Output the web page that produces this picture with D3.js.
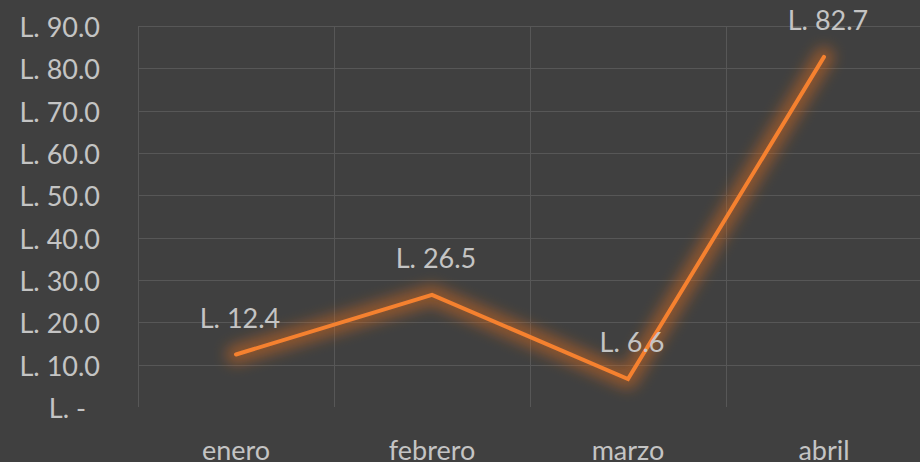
<!DOCTYPE html>
<html><head><meta charset="utf-8">
<script src="https://cdn.jsdelivr.net/npm/d3@7"></script>
<style>body{margin:0;background:#404040;} text{font-family:Lato,"Open Sans",sans-serif;font-weight:400;}</style>
</head><body>
<svg id="c" width="920" height="462"></svg>
<script>
const categories = ["enero", "febrero", "marzo", "abril"];
const values = [12.4, 26.5, 6.6, 82.7];
const yTicks = [0, 10, 20, 30, 40, 50, 60, 70, 80, 90];

const W = 920, H = 462;
const margin = {left: 138, right: -2, top: 26, bottom: 55};
const FS = "27px", TC = "#c4c4c4";
const svg = d3.select("#c");
svg.append("rect").attr("width", W).attr("height", H).attr("fill", "#404040");

const x = d3.scaleBand().domain(categories).range([margin.left, W - margin.right]).padding(0);
const y = d3.scaleLinear().domain([0, 90]).range([H - margin.bottom, margin.top]);

const defs = svg.append("defs");
const f = defs.append("filter").attr("id", "glow").attr("x", "-30%").attr("y", "-30%").attr("width", "160%").attr("height", "160%");
f.append("feGaussianBlur").attr("in", "SourceGraphic").attr("stdDeviation", 7).attr("result", "b");
f.append("feComponentTransfer").attr("in", "b").attr("result", "b2")
  .append("feFuncA").attr("type", "linear").attr("slope", 0.5);
const m = f.append("feMerge");
m.append("feMergeNode").attr("in", "b2");

// gridlines
const grid = svg.append("g").attr("stroke", "#575757").attr("stroke-width", 1);
grid.selectAll("line.h").data(yTicks.filter(d => d > 0)).join("line")
  .attr("x1", margin.left).attr("x2", W)
  .attr("y1", d => Math.round(y(d)) + 0.5).attr("y2", d => Math.round(y(d)) + 0.5);
const vx = categories.map(c => x(c)).concat([x(categories[3]) + x.bandwidth()]);
grid.selectAll("line.v").data(vx).join("line")
  .attr("x1", d => Math.round(d) + 0.5).attr("x2", d => Math.round(d) + 0.5)
  .attr("y1", y(90)).attr("y2", y(0));

// y axis labels
const fmt = d => d === 0 ? "L. -" : "L. " + d3.format(".1f")(d);
const yAxis = d3.axisLeft(y).tickValues(yTicks).tickFormat(fmt).tickSize(0).tickPadding(0);
const ga = svg.append("g").attr("transform", "translate(100,0)").call(yAxis);
ga.select(".domain").remove();
ga.selectAll("text").attr("fill", TC).style("font-size", FS).style("font-family", "Lato,'Open Sans',sans-serif").style("font-weight", 400)
  .attr("dx", d => d === 0 ? -14 : 0).attr("dy", null).attr("y", 10.5);

// x axis labels
const xAxis = d3.axisBottom(x).tickSize(0).tickPadding(0);
const gx = svg.append("g").attr("transform", `translate(0,${H - 2})`).call(xAxis);
gx.select(".domain").remove();
gx.selectAll("text").attr("fill", TC).style("font-size", FS).style("font-family", "Lato,'Open Sans',sans-serif").style("font-weight", 400)
  .attr("y", 0).attr("dy", null);

const pts = categories.map((c, i) => [x(c) + x.bandwidth() / 2, y(values[i])]);
const line = d3.line();
svg.append("path").attr("d", line(pts)).attr("fill", "none").attr("stroke", "#d96a1c")
  .attr("stroke-width", 20).attr("stroke-linejoin", "round").attr("stroke-linecap", "round").attr("filter", "url(#glow)");
svg.append("path").attr("d", line(pts)).attr("fill", "none").attr("stroke", "#f5812f")
  .attr("stroke-width", 4).attr("stroke-linejoin", "miter").attr("stroke-linecap", "round");

// data labels
svg.append("g").selectAll("text").data(values).join("text")
  .attr("x", (d, i) => pts[i][0] + 4).attr("y", (d, i) => pts[i][1] - 27)
  .attr("text-anchor", "middle").attr("fill", TC).style("font-size", FS)
  .text(d => "L. " + d3.format(".1f")(d));
</script>
</body></html>
